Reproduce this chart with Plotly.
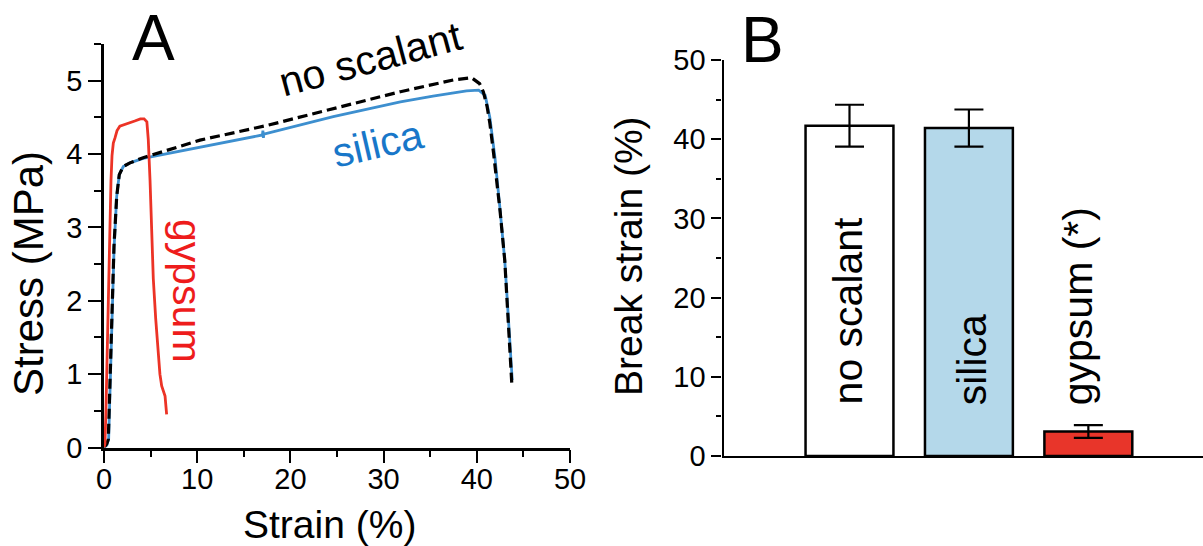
import plotly.graph_objects as go

W, H = 1203, 546
FONT = "Liberation Sans, Arial, Helvetica, sans-serif"

# ---- Panel A: stress-strain curves ----
gypsum_strain = [0.0, 0.1, 0.2, 0.36, 0.46, 0.64, 0.75, 0.86, 1.0, 1.18, 1.4, 1.7, 2.5, 3.3, 3.9,
                 4.3, 4.6, 4.75, 4.94, 5.1, 5.29, 5.55, 5.83, 6.0, 6.19, 6.4, 6.55, 6.72]
gypsum_stress = [0.0, 0.05, 0.46, 1.38, 2.27, 3.2, 3.64, 3.98, 4.15, 4.22, 4.32, 4.38, 4.41, 4.45, 4.48,
                 4.48, 4.44, 4.2, 3.64, 3.0, 2.3, 1.75, 1.2, 1.0, 0.84, 0.76, 0.70, 0.45]

noscal_strain = [0.0, 0.3, 0.46, 0.64, 0.82, 1.07, 1.36, 1.64, 2.07, 2.79, 4.2, 10.3, 17.5, 24.6,
                 31.8, 37.5, 39.45, 40.3, 40.7, 41.1, 41.4, 41.8, 42.1, 42.5, 43.0, 43.4, 43.75]
noscal_stress = [0.0, 0.05, 0.11, 0.92, 1.83, 2.74, 3.42, 3.72, 3.83, 3.88, 3.95, 4.19, 4.39, 4.62,
                 4.85, 5.01, 5.04, 4.96, 4.85, 4.65, 4.42, 4.01, 3.69, 3.22, 2.55, 1.74, 0.88]

silica_strain = [0.0, 0.3, 0.5, 0.66, 0.84, 1.08, 1.36, 1.64, 2.07, 2.79, 4.2, 10.3, 17.0, 17.05, 17.1,
                 17.15, 24.6, 31.8, 35.3, 38.9, 40.2, 40.9, 41.4, 41.95, 42.5, 43.0, 43.4, 43.8]
silica_stress = [0.0, 0.03, 0.12, 0.9, 1.8, 2.72, 3.42, 3.72, 3.83, 3.88, 3.94, 4.09, 4.26, 4.32, 4.22,
                 4.27, 4.51, 4.71, 4.79, 4.86, 4.87, 4.80, 4.50, 3.95, 3.24, 2.55, 1.74, 0.92]

# ---- Panel B: break strain bars ----
categories = ["no scalant", "silica", "gypsum (*)"]
bar_pos = [1, 2, 3]
break_strain = [41.7, 41.4, 3.1]
break_err = [2.65, 2.35, 0.8]
bar_fill = ["#ffffff", "#b4d8ea", "#e8352a"]

x_ticks_a = [0, 10, 20, 30, 40, 50]
y_ticks_a = [0, 1, 2, 3, 4, 5]
y_ticks_b = [0, 10, 20, 30, 40, 50]


def px(x):
    return x / W


def py(y):
    return 1 - y / H


fig = go.Figure()

fig.add_trace(go.Scatter(x=silica_strain, y=silica_stress, mode="lines",
                         line=dict(color="#3d8fcf", width=2.8), xaxis="x", yaxis="y"))
fig.add_trace(go.Scatter(x=noscal_strain, y=noscal_stress, mode="lines",
                         line=dict(color="black", width=3.2, dash="10px,5px"), xaxis="x", yaxis="y"))
fig.add_trace(go.Scatter(x=gypsum_strain, y=gypsum_stress, mode="lines",
                         line=dict(color="#ec3326", width=2.8), xaxis="x", yaxis="y"))

fig.add_trace(go.Bar(x=bar_pos, y=break_strain, width=0.736,
                     marker=dict(color=bar_fill, line=dict(color="black", width=2.5)),
                     error_y=dict(type="data", array=break_err, color="black", thickness=2.2, width=14.5),
                     xaxis="x2", yaxis="y2"))

tickfont = dict(family=FONT, size=29, color="black")

fig.update_layout(
    width=W, height=H,
    margin=dict(l=0, r=0, t=0, b=0),
    paper_bgcolor="white", plot_bgcolor="white",
    showlegend=False,
    xaxis=dict(domain=[px(104), px(570)], range=[0, 50], tickvals=x_ticks_a, automargin=False,
               showline=True, linecolor="black", linewidth=2.5, showgrid=False, zeroline=False,
               ticks="outside", ticklen=13, tickwidth=2, tickcolor="black", tickfont=tickfont,
               ticklabelstandoff=-9,
               minor=dict(dtick=5, ticks="outside", ticklen=7, tickwidth=2, tickcolor="black"),
               anchor="y"),
    yaxis=dict(domain=[py(447.5), py(44)], range=[0, 5.5], tickvals=y_ticks_a, automargin=False,
               showline=True, linecolor="black", linewidth=2.5, showgrid=False, zeroline=False,
               ticks="outside", ticklen=13, tickwidth=2, tickcolor="black", tickfont=tickfont,
               minor=dict(dtick=0.5, ticks="outside", ticklen=7, tickwidth=2, tickcolor="black"),
               anchor="x"),
    xaxis2=dict(domain=[px(723.5), 1], range=[-0.055, 3.96], showticklabels=False, automargin=False,
                showline=True, linecolor="black", linewidth=2.2, showgrid=False, zeroline=False,
                ticks="", anchor="y2"),
    yaxis2=dict(domain=[py(456), py(60)], range=[0, 50], tickvals=y_ticks_b, automargin=False,
                showline=True, linecolor="black", linewidth=2.2, showgrid=False, zeroline=False,
                ticks="outside", ticklen=10, tickwidth=2, tickcolor="black", tickfont=tickfont,
                minor=dict(dtick=5, ticks="outside", ticklen=5, tickwidth=2, tickcolor="black"),
                anchor="x2"),
)


def label(text, x, y, size, color="black", angle=0, xref="paper", yref="paper",
          xanchor="center", yanchor="middle", **kw):
    fig.add_annotation(text=text, x=x, y=y, xref=xref, yref=yref, showarrow=False,
                       xanchor=xanchor, yanchor=yanchor,
                       textangle=angle, font=dict(family=FONT, size=size, color=color), **kw)


# panel letters
label("A", px(153), py(38), 64)
label("B", px(762), py(40), 64)

# axis titles
label("Stress (MPa)", px(28), py(274), 42, angle=-90)
label("Strain (%)", px(329), py(524), 39)
label("Break strain (%)", px(628), py(256), 39, angle=-90)

# curve labels
label("no scalant", px(371), py(59), 41, angle=-15)
label("silica", px(377), py(144), 41, color="#1877c9", angle=-13)
label("gypsum", px(187), py(291), 41, color="#ee1c1c", angle=90)

# bar labels
for pos, name, shift in zip(bar_pos, categories, [-2, 3, -10]):
    label(name, pos, 6.2, 41, angle=-90, xref="x2", yref="y2", yanchor="bottom", xshift=shift)

fig.write_html("out.html")
